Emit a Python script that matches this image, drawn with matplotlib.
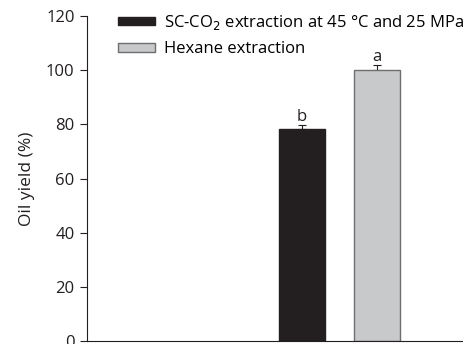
import numpy as np
import matplotlib.pyplot as plt

plt.rcParams['font.family'] = ['Open Sans', 'DejaVu Sans']

labels = ["SC-CO$_2$ extraction at 45 °C and 25 MPa", "Hexane extraction"]
yields = [78.2, 100.0]
errors = [1.5, 1.8]
letters = ["b", "a"]
colors = ['#231f20', '#c8c9cb']
edges = ['#231f20', '#6d6e70']

fig = plt.figure(figsize=(4.63, 3.44), dpi=100)
ax = fig.add_axes([0.188, 0.0087, 0.812, 0.9443])

x = np.arange(len(yields))
for i in range(len(yields)):
    ax.bar(x[i], yields[i], width=0.61, color=colors[i], edgecolor=edges[i],
           linewidth=1.0, label=labels[i], zorder=2)
    ax.errorbar(x[i], yields[i], yerr=[[0], [errors[i]]], fmt='none',
                ecolor='#231f20', elinewidth=0.8, capsize=3, capthick=0.8, zorder=1)
    ax.text(x[i], yields[i] + errors[i] + 0.2, letters[i], ha='center', va='bottom',
            fontsize=12, color='#231f20')

ax.set_xlim(-2.87, 2.15)
ax.set_ylim(0, 120)
ax.set_yticks([0, 20, 40, 60, 80, 100, 120])
ax.set_xticks([])
ax.tick_params(axis='y', direction='out', length=5, width=0.8, pad=4,
               colors='#231f20', labelsize=12, labelcolor='#231f20')
ax.spines['top'].set_visible(False)
ax.spines['right'].set_visible(False)
ax.spines['left'].set_color('#231f20')
ax.spines['bottom'].set_color('#231f20')
ax.set_ylabel("Oil yield (%)", fontsize=12.5, color='#231f20', labelpad=8)

ax.legend(loc='upper left', bbox_to_anchor=(0.082, 1.01), frameon=False,
          fontsize=12, handlelength=2.2, handleheight=0.45, handletextpad=0.55,
          labelspacing=0.55, borderaxespad=0, borderpad=0)

fig.savefig('out.png', dpi=100)
